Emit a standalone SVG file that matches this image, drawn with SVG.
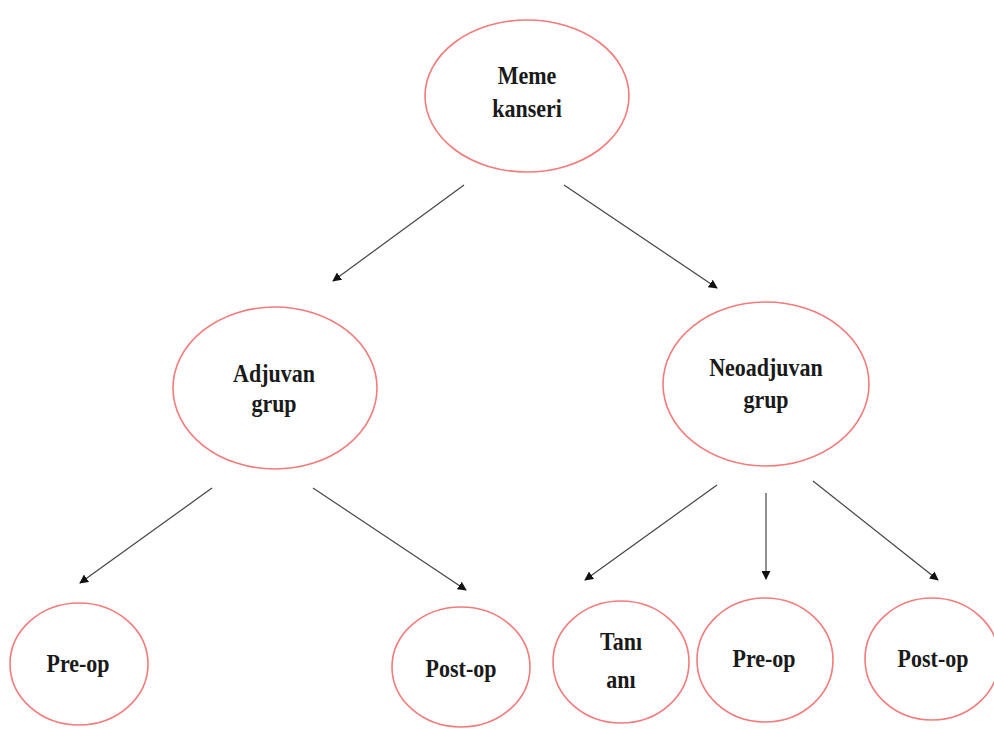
<svg xmlns="http://www.w3.org/2000/svg" width="994" height="729" viewBox="0 0 994 729">
<style>
.n{fill:#fff;stroke:#f27b7b;stroke-width:1.6}
.t{font-family:"Liberation Serif","Times New Roman",serif;font-weight:bold;font-size:22px;fill:#1a1a1a;text-anchor:middle}
.c{stroke:#444;stroke-width:1.2;fill:none;marker-end:url(#a)}
</style>
<defs>
<marker id="a" viewBox="0 0 10 10" refX="9" refY="5" markerWidth="9" markerHeight="9" markerUnits="userSpaceOnUse" orient="auto">
<path d="M0,0 L10,5 L0,10 z" fill="#111"/>
</marker>
</defs>
<rect width="994" height="729" fill="#fff"/>
<g id="connectors">
<line class="c" x1="464" y1="185" x2="333" y2="281"/>
<line class="c" x1="564" y1="185" x2="717" y2="288"/>
<line class="c" x1="212" y1="488" x2="80" y2="583"/>
<line class="c" x1="313" y1="488" x2="466" y2="590"/>
<line class="c" x1="717" y1="485" x2="585" y2="580"/>
<line class="c" x1="766" y1="493" x2="766" y2="579"/>
<line class="c" x1="813" y1="481" x2="938" y2="580"/>
</g>
<g id="meme-kanseri">
<ellipse class="n" cx="527" cy="96" rx="102" ry="76"/>
<text class="t" transform="translate(527,84) scale(1,1.15)">Meme</text>
<text class="t" transform="translate(527,117) scale(1,1.15)">kanseri</text>
</g>
<g id="adjuvan-grup">
<ellipse class="n" cx="275" cy="388" rx="102" ry="81"/>
<text class="t" transform="translate(274,382) scale(1,1.15)">Adjuvan</text>
<text class="t" transform="translate(274,412) scale(1,1.15)">grup</text>
</g>
<g id="neoadjuvan-grup">
<ellipse class="n" cx="766" cy="384" rx="103" ry="82"/>
<text class="t" transform="translate(766,376) scale(1,1.15)">Neoadjuvan</text>
<text class="t" transform="translate(766,408) scale(1,1.15)">grup</text>
</g>
<g id="pre-op-1">
<ellipse class="n" cx="79" cy="664" rx="69" ry="61"/>
<text class="t" transform="translate(78,672) scale(1,1.15)">Pre-op</text>
</g>
<g id="post-op-1">
<ellipse class="n" cx="461" cy="667" rx="69" ry="60"/>
<text class="t" transform="translate(461,677) scale(1,1.15)">Post-op</text>
</g>
<g id="tani-ani">
<ellipse class="n" cx="621" cy="662" rx="68" ry="61"/>
<text class="t" transform="translate(621,650) scale(1,1.15)">Tanı</text>
<text class="t" transform="translate(621,688) scale(1,1.15)">anı</text>
</g>
<g id="pre-op-2">
<ellipse class="n" cx="765" cy="660" rx="68" ry="62"/>
<text class="t" transform="translate(764,667) scale(1,1.15)">Pre-op</text>
</g>
<g id="post-op-2">
<ellipse class="n" cx="932" cy="659" rx="67" ry="61"/>
<text class="t" transform="translate(933,667) scale(1,1.15)">Post-op</text>
</g>
</svg>
